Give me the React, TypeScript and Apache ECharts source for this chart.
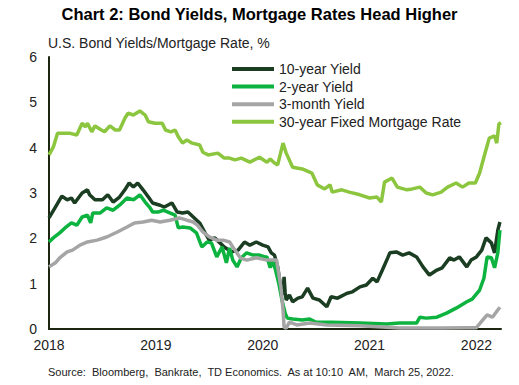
import React, { useEffect, useRef } from "react";
import * as echarts from "echarts";

// Decimal-year dates and values (%) per series
const tenYearDates = [2018.00, 2018.06, 2018.12, 2018.17, 2018.21, 2018.24, 2018.31, 2018.36, 2018.38, 2018.43, 2018.50, 2018.55, 2018.60, 2018.66, 2018.71, 2018.75, 2018.79, 2018.83, 2018.88, 2018.93, 2018.97,
  2019.04, 2019.08, 2019.15, 2019.20, 2019.25, 2019.30, 2019.35, 2019.41, 2019.46, 2019.50, 2019.55, 2019.60, 2019.64, 2019.71, 2019.77, 2019.83, 2019.88, 2019.94,
  2020.00, 2020.05, 2020.08, 2020.11, 2020.14, 2020.17, 2020.19, 2020.20, 2020.21, 2020.22, 2020.25, 2020.28, 2020.33, 2020.37, 2020.42, 2020.47, 2020.53, 2020.60, 2020.64, 2020.70, 2020.79, 2020.84, 2020.91, 2020.97,
  2021.03, 2021.07, 2021.12, 2021.17, 2021.19, 2021.25, 2021.31, 2021.37, 2021.44, 2021.50, 2021.56, 2021.63, 2021.68, 2021.75, 2021.79, 2021.84, 2021.91, 2021.95,
  2022.00, 2022.05, 2022.09, 2022.14, 2022.17, 2022.20, 2022.22];
const tenYearValues = [2.45, 2.69, 2.93, 2.85, 2.89, 2.78, 3.00, 3.07, 2.96, 2.85, 2.85, 2.96, 2.80, 2.91, 3.07, 3.22, 3.13, 3.22, 3.07, 2.91, 2.78,
  2.73, 2.69, 2.78, 2.58, 2.56, 2.58, 2.47, 2.34, 2.12, 1.96, 2.01, 1.90, 1.81, 1.70, 1.74, 1.92, 1.85, 1.92,
  1.85, 1.81, 1.68, 1.63, 1.37, 0.90, 0.75, 1.15, 0.80, 0.64, 0.75, 0.60, 0.68, 0.71, 0.90, 0.68, 0.64, 0.49, 0.71, 0.68, 0.79, 0.82, 0.93, 0.97,
  1.12, 1.04, 1.30, 1.57, 1.68, 1.70, 1.63, 1.68, 1.59, 1.37, 1.19, 1.30, 1.35, 1.57, 1.52, 1.59, 1.37, 1.52,
  1.59, 1.74, 2.01, 1.90, 1.68, 2.18, 2.36];

const twoYearDates = [2018.00, 2018.04, 2018.10, 2018.15, 2018.21, 2018.26, 2018.31, 2018.36, 2018.39, 2018.41, 2018.48, 2018.54, 2018.60, 2018.66, 2018.73, 2018.79, 2018.85, 2018.90, 2018.94, 2018.97,
  2019.02, 2019.07, 2019.13, 2019.18, 2019.21, 2019.25, 2019.32, 2019.38, 2019.43, 2019.48, 2019.52, 2019.57, 2019.62, 2019.66, 2019.69, 2019.72, 2019.76, 2019.80, 2019.85, 2019.91, 2019.97,
  2020.02, 2020.04, 2020.07, 2020.09, 2020.12, 2020.15, 2020.18, 2020.21, 2020.23, 2020.28, 2020.37, 2020.44, 2020.50, 2020.65, 2020.91,
  2021.16, 2021.28, 2021.44, 2021.47, 2021.53, 2021.63, 2021.72, 2021.81, 2021.91, 2021.96,
  2022.03, 2022.07, 2022.10, 2022.14, 2022.17, 2022.20, 2022.22];
const twoYearValues = [1.92, 2.01, 2.12, 2.23, 2.34, 2.29, 2.47, 2.51, 2.34, 2.56, 2.56, 2.67, 2.62, 2.73, 2.89, 2.85, 2.96, 2.80, 2.69, 2.58,
  2.58, 2.62, 2.56, 2.51, 2.23, 2.25, 2.23, 2.12, 1.81, 1.92, 1.90, 1.59, 1.81, 1.46, 1.79, 1.52, 1.37, 1.57, 1.68, 1.63, 1.63,
  1.59, 1.59, 1.35, 1.52, 1.30, 1.01, 0.64, 0.35, 0.24, 0.22, 0.20, 0.22, 0.15, 0.15, 0.13,
  0.11, 0.13, 0.13, 0.26, 0.24, 0.26, 0.35, 0.46, 0.60, 0.66,
  0.86, 1.12, 1.59, 1.57, 1.35, 1.68, 2.18];

const threeMonthDates = [2018.00, 2018.06, 2018.10, 2018.17, 2018.22, 2018.29, 2018.36, 2018.45, 2018.54, 2018.64, 2018.73, 2018.80, 2018.88, 2018.96,
  2019.04, 2019.13, 2019.22, 2019.29, 2019.35, 2019.39, 2019.44, 2019.50, 2019.57, 2019.63, 2019.69, 2019.74, 2019.79, 2019.85, 2019.94,
  2020.04, 2020.13, 2020.14, 2020.17, 2020.19, 2020.20, 2020.22, 2020.25, 2020.32, 2020.44, 2020.60, 2020.91,
  2021.16, 2021.28, 2021.68, 2021.91, 2022.00, 2022.06, 2022.10, 2022.15, 2022.20, 2022.22];
const threeMonthValues = [1.37, 1.46, 1.57, 1.70, 1.74, 1.85, 1.92, 1.96, 2.03, 2.14, 2.25, 2.34, 2.36, 2.40,
  2.36, 2.40, 2.45, 2.40, 2.36, 2.29, 2.14, 2.03, 1.96, 1.96, 1.92, 1.74, 1.57, 1.52, 1.57,
  1.52, 1.52, 1.37, 0.93, 0.42, 0.04, 0.02, 0.15, 0.09, 0.13, 0.09, 0.07,
  0.04, 0.02, 0.02, 0.03, 0.03, 0.20, 0.31, 0.26, 0.42, 0.48];

const mortgageDates = [2018.00, 2018.04, 2018.08, 2018.13, 2018.19, 2018.26, 2018.31, 2018.34, 2018.36, 2018.40, 2018.43, 2018.49, 2018.52, 2018.57, 2018.62, 2018.66, 2018.71, 2018.74, 2018.79, 2018.85, 2018.90, 2018.93, 2018.99,
  2019.06, 2019.09, 2019.14, 2019.18, 2019.21, 2019.25, 2019.29, 2019.34, 2019.41, 2019.44, 2019.49, 2019.58, 2019.64, 2019.69, 2019.74, 2019.80, 2019.88, 2019.97,
  2020.04, 2020.07, 2020.11, 2020.14, 2020.19, 2020.22, 2020.28, 2020.37, 2020.46, 2020.51, 2020.58, 2020.63, 2020.65, 2020.74, 2020.81, 2020.91,
  2021.00, 2021.07, 2021.11, 2021.14, 2021.21, 2021.26, 2021.35, 2021.40, 2021.47, 2021.53, 2021.59, 2021.67, 2021.73, 2021.81, 2021.87, 2021.93, 2021.99,
  2022.03, 2022.07, 2022.12, 2022.17, 2022.19, 2022.21, 2022.23];
const mortgageValues = [3.84, 4.01, 4.32, 4.32, 4.32, 4.28, 4.54, 4.46, 4.54, 4.35, 4.48, 4.39, 4.35, 4.48, 4.39, 4.39, 4.65, 4.76, 4.72, 4.81, 4.72, 4.57, 4.54,
  4.54, 4.39, 4.35, 4.39, 4.24, 4.10, 4.17, 4.10, 4.06, 3.90, 3.84, 3.88, 3.77, 3.77, 3.73, 3.77, 3.68, 3.79,
  3.68, 3.75, 3.66, 3.62, 4.10, 3.88, 3.57, 3.53, 3.44, 3.18, 3.09, 3.18, 3.02, 3.07, 3.02, 2.96,
  2.89, 2.91, 2.80, 3.24, 3.33, 3.13, 3.07, 3.09, 3.13, 3.00, 2.96, 3.02, 3.13, 3.22, 3.13, 3.22, 3.22,
  3.44, 3.79, 4.21, 4.26, 4.10, 4.52, 4.55];

const seriesNames = ["10-year Yield", "2-year Yield", "3-month Yield", "30-year Fixed Mortgage Rate"];
const seriesColors = ["#1b3d22", "#0db33f", "#a5a5a5", "#8cc63f"];

const FONT = "'Liberation Sans', Arial, sans-serif";

function pairs(xs: number[], ys: number[]) {
  return xs.map((x, i) => [x, ys[i]]);
}

export default function App() {
  const ref = useRef<HTMLDivElement>(null);
  useEffect(() => {
    if (!ref.current) return;
    const chart = echarts.init(ref.current, undefined, { renderer: "svg" });
    const datasets = [
      pairs(tenYearDates, tenYearValues),
      pairs(twoYearDates, twoYearValues),
      pairs(threeMonthDates, threeMonthValues),
      pairs(mortgageDates, mortgageValues),
    ];
    chart.setOption({
      animation: false,
      backgroundColor: "#ffffff",
      title: {
        text: "Chart 2: Bond Yields, Mortgage Rates Head Higher",
        left: "center",
        top: 0,
        textStyle: { fontFamily: FONT, fontSize: 16.5, fontWeight: "bold", color: "#000" },
      },
      graphic: [
        {
          type: "text",
          left: 48,
          top: 36,
          style: { text: "U.S. Bond Yields/Mortgage Rate, %", fontFamily: FONT, fontSize: 14, fill: "#222" },
        },
        {
          type: "text",
          left: 48,
          top: 366,
          style: {
            text: "Source:  Bloomberg,  Bankrate,  TD Economics.  As at 10:10  AM,  March 25, 2022.",
            fontFamily: FONT,
            fontSize: 11,
            fill: "#222",
          },
        },
      ],
      legend: {
        orient: "vertical",
        left: 232,
        top: 62,
        padding: 0,
        icon: "rect",
        itemWidth: 42,
        itemHeight: 4,
        itemGap: 3.6,
        data: seriesNames,
        textStyle: { fontFamily: FONT, fontSize: 14, color: "#222", lineHeight: 14 },
      },
      grid: { left: 49, right: 18, top: 57, bottom: 56, containLabel: false },
      xAxis: {
        type: "value",
        min: 2018,
        max: 2022.23,
        interval: 1,
        splitLine: { show: false },
        axisTick: { show: false },
        axisLine: { show: true, lineStyle: { color: "#1c2610", width: 2 } },
        axisLabel: {
          margin: 9,
          fontFamily: FONT,
          fontSize: 14,
          color: "#222",
          formatter: (v: number) => (Math.abs(v - Math.round(v)) < 1e-6 ? String(Math.round(v)) : ""),
        },
      },
      yAxis: {
        type: "value",
        min: 0,
        max: 6,
        interval: 1,
        splitLine: { show: false },
        axisTick: { show: false },
        axisLine: { show: true, lineStyle: { color: "#1c2610", width: 2 } },
        axisLabel: { margin: 12, fontFamily: FONT, fontSize: 14, color: "#222" },
      },
      series: seriesNames.map((name, i) => ({
        name,
        type: "line",
        data: datasets[i],
        showSymbol: false,
        symbol: "none",
        color: seriesColors[i],
        lineStyle: { width: 3.5, color: seriesColors[i] },
        itemStyle: { color: seriesColors[i] },
        z: 2 + i,
      })),
    });
    return () => chart.dispose();
  }, []);
  return <div ref={ref} style={{ position: "fixed", left: 0, top: 0, width: 519, height: 385 }} />;
}
